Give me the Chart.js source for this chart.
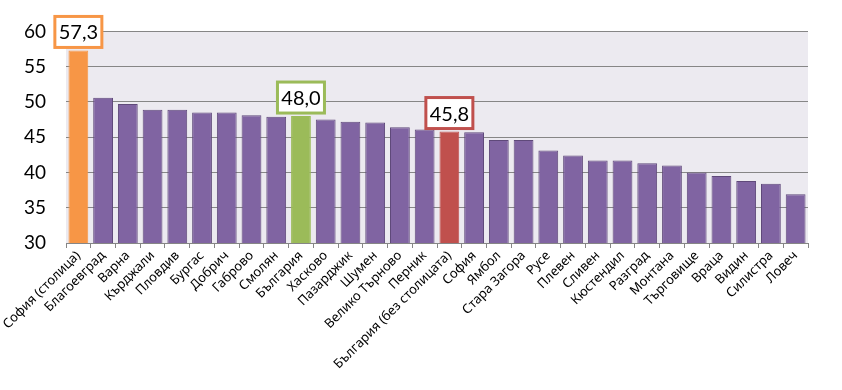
<!DOCTYPE html>
<html>
<head>
<meta charset="utf-8">
<script src="https://cdn.jsdelivr.net/npm/chart.js@4"></script>
<style>
  html, body { margin: 0; padding: 0; background: #fff; }
  #wrap { width: 842px; height: 390px; }
</style>
</head>
<body>
<div id="wrap"><canvas id="myChart" width="842" height="390"></canvas></div>
<script>
var regions = ['София (столица)', 'Благоевград', 'Варна', 'Кърджали', 'Пловдив', 'Бургас', 'Добрич',
  'Габрово', 'Смолян', 'България', 'Хасково', 'Пазарджик', 'Шумен', 'Велико Търново', 'Перник',
  'България (без столицата)', 'София', 'Ямбол', 'Стара Загора', 'Русе', 'Плевен', 'Сливен',
  'Кюстендил', 'Разград', 'Монтана', 'Търговище', 'Враца', 'Видин', 'Силистра', 'Ловеч'];
var values = [57.3, 50.6, 49.7, 48.9, 48.9, 48.5, 48.5, 48.1, 47.9, 48.0, 47.5, 47.2, 47.1, 46.4, 46.1,
  45.8, 45.7, 44.6, 44.6, 43.1, 42.4, 41.7, 41.7, 41.3, 41.0, 40.0, 39.5, 38.8, 38.4, 36.9];
var yTicks = [30, 35, 40, 45, 50, 55, 60];
var labelled = ['София (столица)', 'България', 'България (без столицата)'];

// colours for the highlighted bars
var highlight = {
  'София (столица)': '#F79646',
  'България': '#9BBB59',
  'България (без столицата)': '#C0504D'
};
var barColors = regions.map(function(r) { return highlight[r] || '#8064A2'; });
var borderColors = regions.map(function(r) { return highlight[r] || '#5F497A'; });

var plotBg = {
  id: 'plotBg',
  beforeDraw: function(chart) {
    var a = chart.chartArea, ctx = chart.ctx;
    ctx.save();
    ctx.fillStyle = '#ECEAF0';
    ctx.fillRect(a.left, a.top, a.right - a.left, a.bottom - a.top);
    ctx.restore();
  }
};

var boxLabels = {
  id: 'boxLabels',
  afterDatasetsDraw: function(chart) {
    var ctx = chart.ctx;
    var meta = chart.getDatasetMeta(0);
    ctx.save();
    ctx.font = '20px Lato, "Noto Sans", sans-serif';
    ctx.textAlign = 'center';
    ctx.textBaseline = 'middle';
    labelled.forEach(function(name) {
      var i = regions.indexOf(name);
      var bar = meta.data[i];
      var txt = values[i].toFixed(1).replace('.', ',');
      var w = 47, h = 31;
      var x = bar.x - w / 2, y = bar.y - 3 - h;
      ctx.fillStyle = '#fff';
      ctx.fillRect(x, y, w, h);
      ctx.lineWidth = 3;
      ctx.strokeStyle = highlight[name];
      ctx.strokeRect(x, y, w, h);
      ctx.fillStyle = '#000';
      ctx.fillText(txt, bar.x, y + h / 2 + 1);
    });
    ctx.restore();
  }
};

var ctx = document.getElementById('myChart').getContext('2d');
var myChart = new Chart(ctx, {
  type: 'bar',
  data: {
    labels: regions,
    datasets: [{
      data: values,
      backgroundColor: barColors,
      borderColor: borderColors,
      borderWidth: 1,
      barPercentage: 0.8,
      categoryPercentage: 1
    }]
  },
  options: {
    responsive: false,
    animation: false,
    layout: { padding: { top: 26, right: 34, left: 0, bottom: 0 } },
    plugins: { legend: { display: false }, tooltip: { enabled: false } },
    scales: {
      x: {
        grid: { display: true, drawOnChartArea: false, color: '#868686', tickLength: 5, offset: true },
        border: { color: '#868686' },
        ticks: {
          minRotation: 45, maxRotation: 45, autoSkip: false,
          color: '#000', padding: 0,
          font: { family: '"Noto Sans", sans-serif', size: 13 }
        },
        afterFit: function(s) { s.height = 147; }
      },
      y: {
        min: 30, max: 60,
        afterBuildTicks: function(s) { s.ticks = yTicks.map(function(v) { return { value: v }; }); },
        grid: { color: '#868686', drawTicks: false },
        border: { display: false },
        ticks: {
          color: '#000', padding: 20,
          font: { family: 'Lato, "Noto Sans", sans-serif', size: 19 }
        },
        afterFit: function(s) { s.width = 66; }
      }
    }
  },
  plugins: [plotBg, boxLabels]
});
</script>
</body>
</html>
